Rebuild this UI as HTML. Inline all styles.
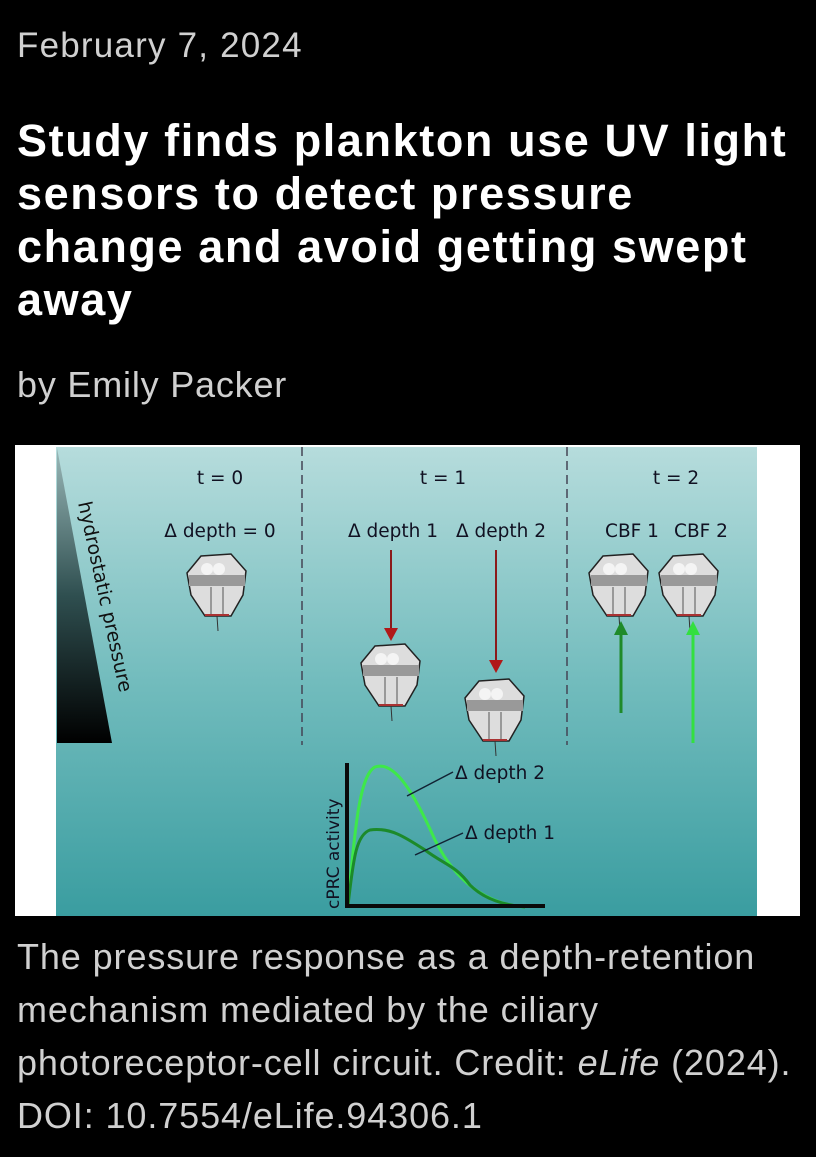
<!DOCTYPE html>
<html><head><style>
body{margin:0;background:#000;width:816px;height:1157px;overflow:hidden;font-family:"Liberation Sans",Arial,sans-serif;position:relative}
.t{position:absolute;left:17px;color:#fff;white-space:nowrap}
</style></head><body>
<div class="t" style="top:26px;font-size:35px;color:#d0d0d0;letter-spacing:1.2px">February 7, 2024</div>
<div class="t" style="top:114px;font-size:45px;font-weight:bold;line-height:53px;letter-spacing:1.6px">Study finds plankton use UV light<br>sensors to detect pressure<br>change and avoid getting swept<br>away</div>
<div class="t" style="top:364px;font-size:36px;color:#d0d0d0;letter-spacing:0.8px">by Emily Packer</div>
<svg style="position:absolute;left:15px;top:445px" width="785" height="471" viewBox="0 0 785 471">
<defs>
<linearGradient id="w" x1="0" y1="0" x2="0" y2="1"><stop offset="0" stop-color="#b6dcdc"/><stop offset="0.5" stop-color="#72bcbd"/><stop offset="1" stop-color="#3a9da0"/></linearGradient>
<linearGradient id="tr" x1="0" y1="0" x2="0" y2="1"><stop offset="0" stop-color="#9ab8b8"/><stop offset="0.5" stop-color="#2f4f50"/><stop offset="1" stop-color="#000"/></linearGradient>
<g id="lv"><path d="M-16,-27 L14,-29 L29,-12 L26,12 L14,33 L-12,33 L-26,12 L-30,-10 Z" fill="#ddd" stroke="#222" stroke-width="1.5"/><rect x="-28" y="-8" width="56" height="11" fill="#999"/><circle cx="-10" cy="-14" r="6" fill="#f4f4f4"/><circle cx="2" cy="-14" r="6" fill="#f4f4f4"/><line x1="-6" y1="4" x2="-6" y2="31" stroke="#555"/><line x1="6" y1="4" x2="6" y2="31" stroke="#555"/><line x1="-12" y1="32" x2="12" y2="32" stroke="#a33" stroke-width="2"/><line x1="0" y1="33" x2="1" y2="48" stroke="#333"/></g>
</defs>
<rect x="0" y="0" width="785" height="471" fill="#fff"/>
<rect x="41" y="2" width="701" height="469" fill="url(#w)"/>
<polygon points="42,3 97,298 42,298" fill="url(#tr)"/>
<text transform="translate(63,58) rotate(77.6)" font-size="19" fill="#111" font-family="DejaVu Sans">hydrostatic pressure</text>
<g stroke="#445" stroke-width="1.5" stroke-dasharray="9,5"><line x1="287" y1="2" x2="287" y2="300"/><line x1="552" y1="2" x2="552" y2="300"/></g>
<g font-family="DejaVu Sans" font-size="18.5" fill="#112" text-anchor="middle">
<text x="205" y="39">t = 0</text><text x="428" y="39">t = 1</text><text x="661" y="39">t = 2</text>
<text x="205" y="92">Δ depth = 0</text><text x="378" y="92">Δ depth 1</text><text x="486" y="92">Δ depth 2</text>
<text x="617" y="92">CBF 1</text><text x="686" y="92">CBF 2</text>
<text x="440" y="334" text-anchor="start">Δ depth  2</text><text x="450" y="394" text-anchor="start">Δ depth 1</text>
<text transform="translate(324,464) rotate(-90)" font-size="17" text-anchor="start">cPRC activity</text>
</g>
<use href="#lv" x="202" y="138"/><use href="#lv" x="376" y="228"/><use href="#lv" x="480" y="263"/>
<use href="#lv" x="604" y="138"/><use href="#lv" x="674" y="138"/>
<g stroke="#8b1a1a" stroke-width="2"><line x1="376" y1="105" x2="376" y2="185"/><line x1="481" y1="105" x2="481" y2="217"/></g>
<polygon points="369,183 383,183 376,196" fill="#b01818"/><polygon points="474,215 488,215 481,228" fill="#b01818"/>
<line x1="606" y1="190" x2="606" y2="268" stroke="#1f8a2a" stroke-width="3"/><polygon points="599,190 613,190 606,176" fill="#1f8a2a"/>
<line x1="678" y1="190" x2="678" y2="298" stroke="#33e040" stroke-width="3"/><polygon points="671,190 685,190 678,176" fill="#33e040"/>
<path d="M333,460 C340,380 345,330 360,322 C380,315 400,350 420,395 C445,445 480,460 510,462" fill="none" stroke="#3ee84a" stroke-width="3"/>
<path d="M333,460 C338,420 340,390 355,385 C375,382 390,392 410,405 C430,420 440,420 455,440 C470,455 490,460 510,462" fill="none" stroke="#1c8a2a" stroke-width="3"/>
<line x1="392" y1="351" x2="438" y2="327" stroke="#123" stroke-width="1.5"/>
<line x1="400" y1="410" x2="448" y2="388" stroke="#123" stroke-width="1.5"/>
<line x1="332" y1="318" x2="332" y2="462" stroke="#0a0a0a" stroke-width="4"/>
<line x1="330" y1="461" x2="530" y2="461" stroke="#0a0a0a" stroke-width="4"/>
</svg>
<div class="t" style="top:930px;font-size:36px;line-height:53px;color:#d0d0d0;letter-spacing:0.9px">The pressure response as a depth-retention<br>mechanism mediated by the ciliary<br>photoreceptor-cell circuit. Credit: <i>eLife</i> (2024).<br>DOI: 10.7554/eLife.94306.1</div>
</body></html>
